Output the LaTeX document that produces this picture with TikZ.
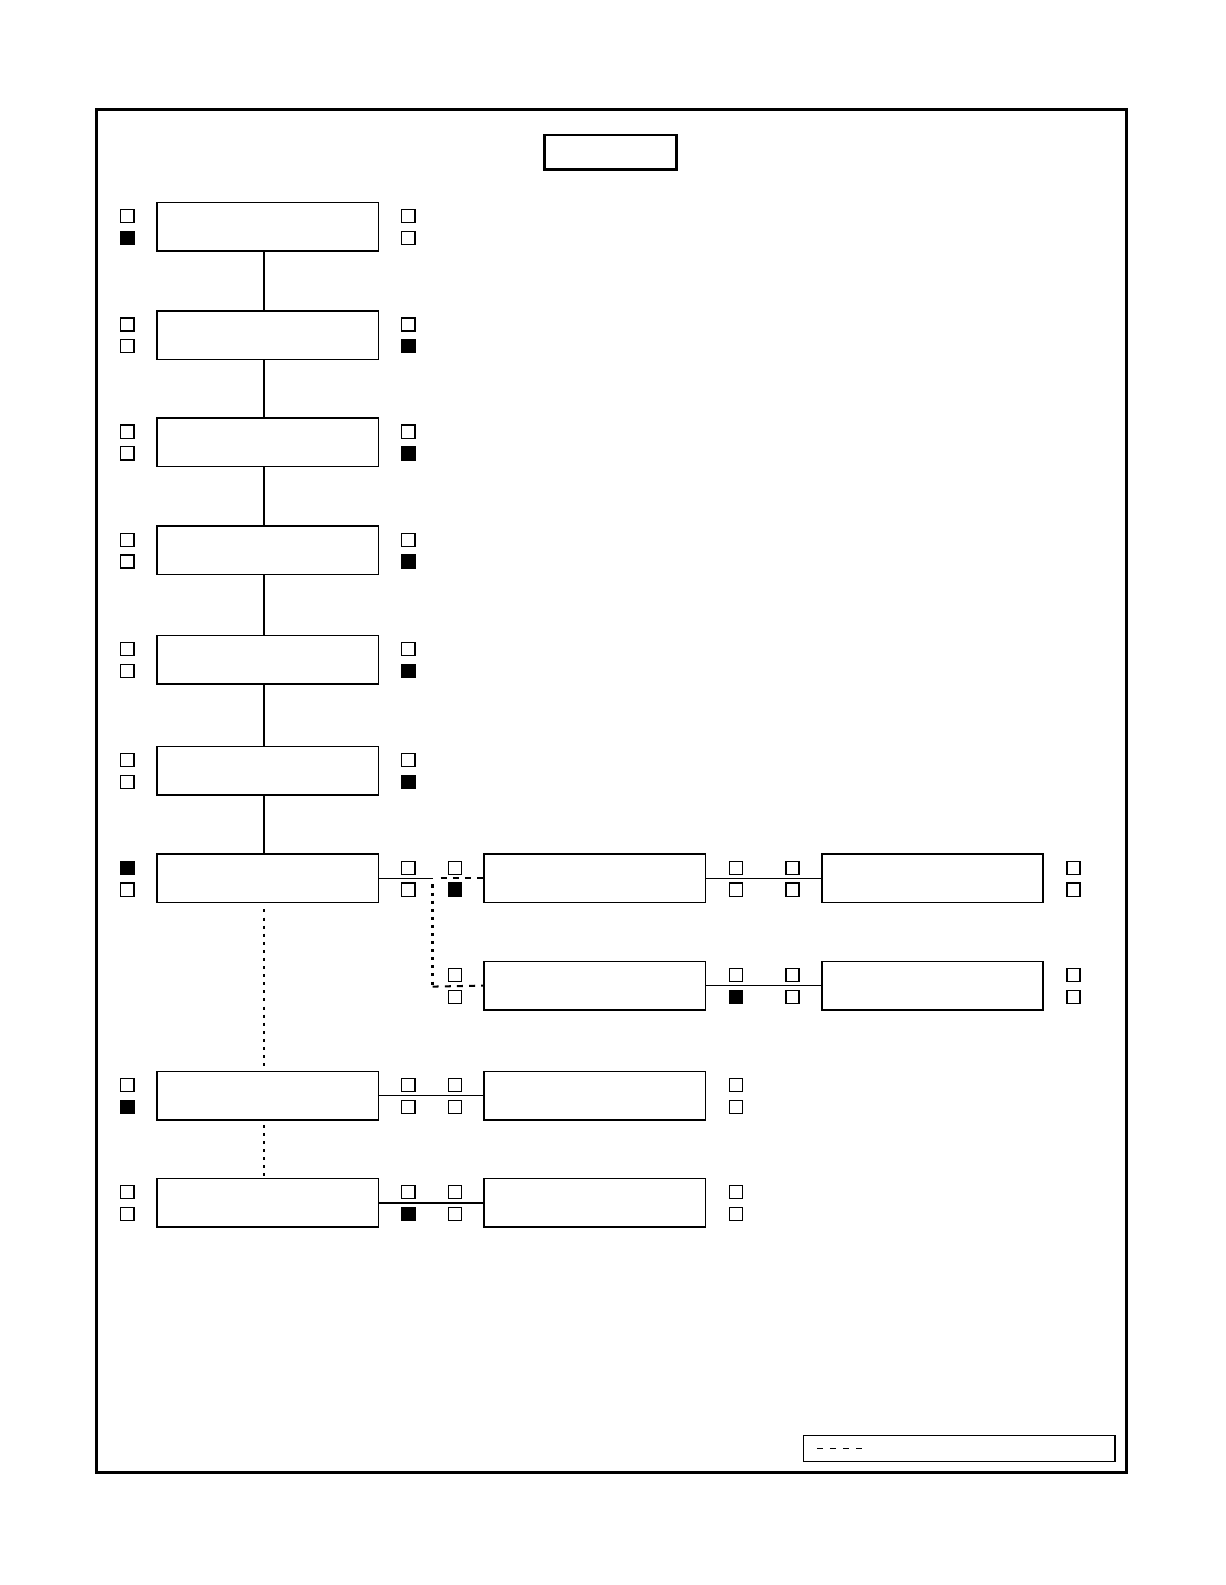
\documentclass[tikz,border=0pt]{standalone}
\begin{document}
\begin{tikzpicture}[x=1pt, y=-1pt,
	blk/.style={draw, line width=1.4pt, minimum width=219pt, minimum height=48pt, inner sep=0pt},
	sq/.style={draw, line width=1.2pt, minimum size=13pt, inner sep=0pt},
	sqf/.style={sq, fill=black},
	dots/.style={dash pattern=on 3pt off 5pt, line width=2.4pt}]

	\useasboundingbox (0,0) rectangle (1212,1568);
	\draw[line width=3pt] (95,108) rectangle (1114,1457);
	\node (title) [draw, line width=2.8pt, minimum width=131pt, minimum height=34pt] at (604,150.5) {};

	% left column
	\foreach \n/\y/\lu/\ld/\ru/\rd in {1/224.5/sq/sqf/sq/sq, 2/331.5/sq/sq/sq/sqf,
		3/437.5/sq/sq/sq/sqf, 4/544.5/sq/sq/sq/sqf, 5/652.5/sq/sq/sq/sqf,
		6/762.5/sq/sq/sq/sqf, 7/869/sqf/sq/sq/sq, 9/1084/sq/sqf/sq/sq, 10/1190/sq/sq/sq/sqf}
	{
		\node (l\n) [blk] at (265,\y) {};
		\node (lu\n) [\lu] at (126,\y-10.5) {};
		\node (ld\n) [\ld] at (126,\y+11) {};
		\node (pu\n) [\ru] at (404,\y-10.5) {};
		\node (pd\n) [\rd] at (404,\y+11) {};
	}

	% middle column
	\foreach \n/\y/\lu/\ld/\ru/\rd in {7/869/sq/sqf/sq/sq, 8/975/sq/sq/sq/sqf,
		9/1084/sq/sq/sq/sq, 10/1190/sq/sq/sq/sq}
	{
		\node (m\n) [blk] at (588.5,\y) {};
		\node (mu\n) [\lu] at (450,\y-10.5) {};
		\node (md\n) [\ld] at (450,\y+11) {};
		\node (qu\n) [\ru] at (728,\y-10.5) {};
		\node (qd\n) [\rd] at (728,\y+11) {};
	}

	% right column
	\foreach \n/\y in {7/869, 8/975}
	{
		\node (r\n) [blk] at (922.5,\y) {};
		\node (ru\n) [sq] at (784,\y-10.5) {};
		\node (rd\n) [sq] at (784,\y+11) {};
		\node (su\n) [sq] at (1062,\y-10.5) {};
		\node (sd\n) [sq] at (1062,\y+11) {};
	}

	\coordinate (j) at (428,869);
	\coordinate (k) at (428,976);

	\path[line width=1.4pt]
	([xshift=-4pt]l1.south) edge ([xshift=-4pt]l2.north)
	([xshift=-4pt]l2.south) edge ([xshift=-4pt]l3.north)
	([xshift=-4pt]l3.south) edge ([xshift=-4pt]l4.north)
	([xshift=-4pt]l4.south) edge ([xshift=-4pt]l5.north)
	([xshift=-4pt]l5.south) edge ([xshift=-4pt]l6.north)
	([xshift=-4pt]l6.south) edge ([xshift=-4pt]l7.north)
	([xshift=-4pt,yshift=-6pt]l7.south) edge[dots] ([xshift=-4pt]l9.north)
	([xshift=-4pt,yshift=-4pt]l9.south) edge[dots] ([xshift=-4pt]l10.north)
	(l7.east) edge (j)
	([xshift=8pt]j) edge[dash pattern=on 6pt off 6pt, line width=2pt] (m7.west)
	([yshift=-6pt]j) edge[dots] (k)
	(k) edge[dash pattern=on 6pt off 6pt, line width=2pt] (m8.west)
	(m7) edge (r7)
	(m8) edge (r8)
	(l9) edge[line width=0.8pt] (m9)
	(l10) edge[line width=1.8pt] (m10);

	% key
	\node (key) [draw, line width=1.4pt, minimum width=308pt, minimum height=26pt] at (949,1433) {};
	\coordinate (keya) at (808,1433);
	\coordinate (keyb) at (860,1433);
	\draw[line width=1.5pt, dash pattern=on 6pt off 7pt] (keya) -- (keyb);

\end{tikzpicture}
\end{document}
